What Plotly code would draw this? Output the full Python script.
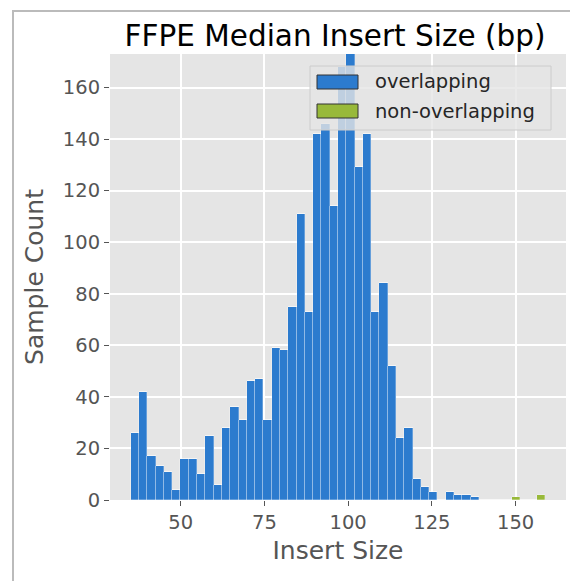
import numpy as np
import plotly.graph_objects as go

# Histogram definition (50 equal bins spanning the combined data range)
bin_lo = 35.1
bin_hi = 158.85
n_bins = 50

overlapping = [26, 42, 17, 13, 11, 4, 16, 16, 10, 25,
               6, 28, 36, 31, 46, 47, 31, 59, 58, 75,
               111, 73, 142, 146, 114, 168, 180, 129, 142, 73,
               84, 52, 24, 28, 8, 5, 3, 0, 3, 2,
               2, 1, 0, 0, 0, 0, 0, 0, 0, 0]
non_overlapping = [0] * 46 + [1, 0, 0, 2]

series_names = ["overlapping", "non-overlapping"]
series_colors = ["#2C7BCE", "#98B93A"]

x_ticks = [50, 75, 100, 125, 150]
y_ticks = [0, 20, 40, 60, 80, 100, 120, 140, 160]

edges = np.linspace(bin_lo, bin_hi, n_bins + 1)
centers = (edges[:-1] + edges[1:]) / 2
width = edges[1] - edges[0]
span = bin_hi - bin_lo
x_range = [bin_lo - 0.05 * span, bin_hi + 0.05 * span]

W, H = 578, 581
ml, mr, mt, mb = 102, 20, 46, 89
pw, ph = W - ml - mr, H - mt - mb

fig = go.Figure()
for name, vals, col in zip(series_names, [overlapping, non_overlapping], series_colors):
    fig.add_trace(go.Bar(
        x=centers, y=vals, width=width, name=name,
        marker=dict(color=col, line=dict(color="rgba(255,255,255,0.35)", width=0.8)),
        showlegend=False,
    ))

font_fam = "DejaVu Sans"
grey = "#555555"

def px_x(p):
    return (p - ml) / pw

def px_y(p):
    return 1 - (p - mt) / ph

shapes = []
annotations = []
# outer frame of the image
shapes.append(dict(type="rect", xref="paper", yref="paper",
                   x0=px_x(5), x1=px_x(577), y0=px_y(580), y1=px_y(3),
                   line=dict(color="#BBBBBB", width=2), fillcolor="rgba(0,0,0,0)", layer="below"))
# legend box
lx0, lx1, ly0, ly1 = 302, 543, 58, 122
shapes.append(dict(type="rect", xref="paper", yref="paper",
                   x0=px_x(lx0), x1=px_x(lx1), y0=px_y(ly1), y1=px_y(ly0),
                   line=dict(color="#CCCCCC", width=1), fillcolor="rgba(229,229,229,0.8)", layer="above"))
for i, (name, col) in enumerate(zip(series_names, series_colors)):
    cy = 74 + i * 29
    shapes.append(dict(type="rect", xref="paper", yref="paper",
                       x0=px_x(309), x1=px_x(350), y0=px_y(cy + 7), y1=px_y(cy - 7),
                       line=dict(color="#333333", width=1), fillcolor=col, layer="above"))
    annotations.append(dict(xref="paper", yref="paper", x=px_x(365), y=px_y(cy),
                            text=name, showarrow=False, xanchor="left", yanchor="middle",
                            font=dict(family=font_fam, size=19.5, color="#262626")))

fig.update_layout(
    width=W, height=H,
    margin=dict(l=ml, r=mr, t=mt, b=mb),
    paper_bgcolor="white",
    plot_bgcolor="#E5E5E5",
    barmode="stack",
    bargap=0,
    title=dict(text="FFPE Median Insert Size (bp)", x=327 / W, xanchor="center",
               y=1 - 28 / H, yanchor="middle",
               font=dict(family=font_fam, size=29.5, color="black")),
    xaxis=dict(range=x_range, tickvals=x_ticks, ticks="outside", ticklen=5,
               tickcolor=grey, tickfont=dict(family=font_fam, size=19.5, color=grey),
               showgrid=True, gridcolor="white", gridwidth=1.5, zeroline=False,
               showline=False,
               title=dict(text="Insert Size", font=dict(family=font_fam, size=25, color=grey), standoff=8)),
    yaxis=dict(range=[0, 173], tickvals=y_ticks, ticks="outside", ticklen=5,
               tickcolor=grey, tickfont=dict(family=font_fam, size=19.5, color=grey),
               showgrid=True, gridcolor="white", gridwidth=1.5, zeroline=False,
               showline=False,
               title=dict(text="Sample Count", font=dict(family=font_fam, size=25, color=grey), standoff=12)),
    shapes=shapes,
    annotations=annotations,
)

fig.write_html("out.html")
